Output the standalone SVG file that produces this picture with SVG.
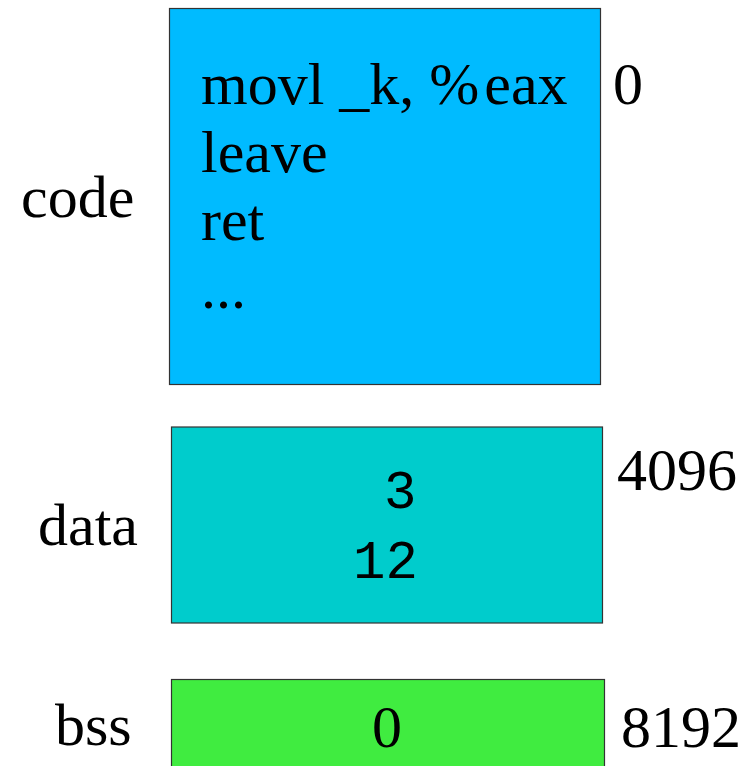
<svg xmlns="http://www.w3.org/2000/svg" width="752" height="766" viewBox="0 0 752 766">
  <style>
    .seg { stroke: #333333; stroke-width: 1.2; }
    .serif { font-family: "Liberation Serif", "Times New Roman", serif; font-size: 60px; fill: #000000; }
    .mono { font-family: "Liberation Mono", "Courier New", monospace; font-size: 54px; fill: #000000; }
  </style>
  <rect width="752" height="766" fill="#ffffff"/>

  <!-- text segment -->
  <g id="code">
    <rect class="seg" x="169.5" y="8.5" width="431" height="376" fill="#00BBFF"/>
    <text class="serif" x="201" y="104">movl _k, %<tspan dx="5">eax</tspan></text>
    <text class="serif" x="201" y="172">leave</text>
    <text class="serif" x="201" y="240">ret</text>
    <text class="serif" x="201" y="308">...</text>
    <text class="serif" x="21" y="217">code</text>
    <text class="serif" x="613" y="104">0</text>
  </g>

  <!-- initialized data segment -->
  <g id="data">
    <rect class="seg" x="171.5" y="427" width="431" height="196" fill="#00CCCC"/>
    <text class="mono" x="384" y="508">3</text>
    <text class="mono" x="353" y="578">12</text>
    <text class="serif" x="38" y="545">data</text>
    <text class="serif" x="617" y="490">4096</text>
  </g>

  <!-- zero-filled bss segment -->
  <g id="bss">
    <rect class="seg" x="171.5" y="679.5" width="433" height="100" fill="#40EC40"/>
    <text class="serif" x="387" y="747" text-anchor="middle">0</text>
    <text class="serif" x="55" y="745">bss</text>
    <text class="serif" x="621" y="747">8192</text>
  </g>

  <g id="connectors"/>
</svg>
